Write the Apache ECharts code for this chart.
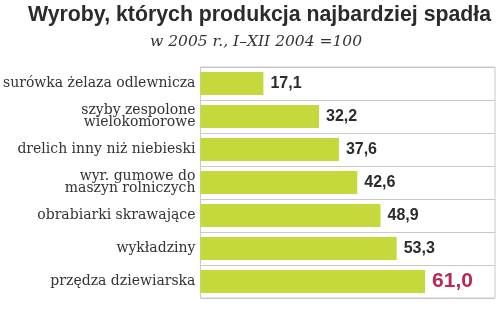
<!DOCTYPE html>
<html><head><meta charset="utf-8">
<script src="https://cdn.jsdelivr.net/npm/echarts@6/dist/echarts.min.js"></script>
<style>html,body{margin:0;padding:0;background:#fff}#c{width:500px;height:322px}</style>
</head><body><div id="c"></div>
<script>
var categories = ["surówka żelaza odlewnicza","szyby zespolone\nwielokomorowe","drelich inny niż niebieski","wyr. gumowe do\nmaszyn rolniczych","obrabiarki skrawające","wykładziny","przędza dziewiarska"];
var values = [17.1, 32.2, 37.6, 42.6, 48.9, 53.3, 61.0];
var titleText = "Wyroby, których produkcja najbardziej spadła";
var subtitleText = "w 2005 r., I–XII 2004 =100";

var chart = echarts.init(document.getElementById('c'), null, {renderer:'canvas'});
var data = values.map(function(v, i){
  var last = i === values.length - 1;
  return {value: v, label: last ? {color:'#b72a55', fontSize:21} : {}};
});
chart.setOption({
  animation:false,
  title:[{
    text:titleText, left:28, top:5, padding:0,
    textStyle:{fontFamily:'Liberation Sans', fontWeight:'bold', fontSize:21.3, color:'#2b2b2b'}
  },{
    text:subtitleText, left:150, top:34, padding:0,
    textStyle:{fontFamily:'DejaVu Serif', fontStyle:'italic', fontWeight:'normal', fontSize:15.5, color:'#333'}
  }],
  grid:{left:199, right:5, top:67, bottom:24, show:true, borderColor:'#c8c8c8', borderWidth:1},
  xAxis:{type:'value', min:0, max:80, show:false, splitLine:{show:false}},
  yAxis:{type:'category', data:categories, inverse:true,
    axisLine:{show:false}, axisTick:{show:false},
    splitLine:{show:true, lineStyle:{color:'#c8c8c8', width:1}},
    axisLabel:{fontFamily:'DejaVu Serif', fontSize:14, color:'#333', margin:5, lineHeight:12.5, align:'right'}
  },
  series:[{type:'bar', data:data, barCategoryGap:'30%', itemStyle:{color:'#c5d83c'},
    label:{show:true, position:'right', distance:7, fontFamily:'Liberation Sans', fontWeight:'bold', fontSize:16, color:'#2b2b2b',
      formatter:function(p){return p.value.toFixed(1).replace('.',',');}}
  }]
});
</script></body></html>
